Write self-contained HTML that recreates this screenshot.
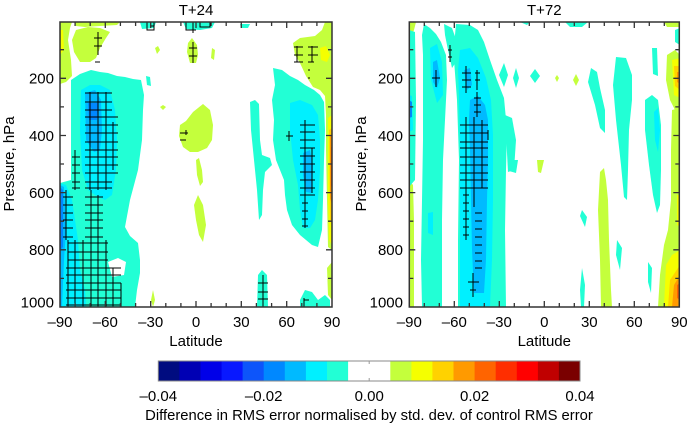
<!DOCTYPE html>
<html><head><meta charset="utf-8"><style>
html,body{margin:0;padding:0;background:#fff;}
svg{display:block;}
text{font-family:"Liberation Sans",Arial,sans-serif;fill:#000;}
</style></head><body>
<svg width="690" height="425" viewBox="0 0 690 425" xmlns="http://www.w3.org/2000/svg">
<rect width="690" height="425" fill="#fff"/>
<defs>
<clipPath id="cl"><rect x="60" y="22" width="272" height="285"/></clipPath>
<clipPath id="cr"><rect x="409.3" y="22" width="270" height="285"/></clipPath>
</defs>

<!-- LEFT PANEL -->
<g clip-path="url(#cl)">
<g fill="#C4FF3C">
<polygon points="60,22 72,22 70,28 68,40 71,60 72,76 66,82 60,84"/>
<polygon points="75,22 120,22 117,25 100,26 85,27 76,26"/>
<polygon points="76,30 88,27 100,28 110,32 106,38 100,48 96,58 90,62 80,62 74,52 72,40"/>
<polygon points="188,43 192,38 197,45 198,55 196,63 190,63 187,52"/>
<polygon points="155,48 158,46 160,50 157,54"/>
<polygon points="212,48 215,50 214,60 211,58"/>
<polygon points="163,105 166,107 163,110 160,107"/>
<polygon points="180,125 186,121 193,112 203,104 210,110 213,125 212,140 207,148 198,152 190,152 183,147 179,136"/>
<polygon points="196,160 199,158 202,170 203,182 200,186 197,175"/>
<polygon points="194,205 198,195 203,205 206,225 203,242 199,235 196,220"/>
<polygon points="153,290 155,300 153,307 151,300"/>
<polygon points="293,43 300,38 315,36 322,30 325,22 332,22 332,250 328,247 327,200 326,150 326,115 325,96 320,90 313,87 306,76 300,63 295,55"/>
<polygon points="327,268 332,262 332,300 328,295"/>
</g>
<g fill="#F5FF00">
<polygon points="320,48 326,46 330,55 327,62 321,60"/>
<polygon points="328,118 332,115 332,245 329,240 328,200"/>
<polygon points="60,30 63,30 64,50 60,55"/>
</g>
<polygon fill="#FFD200" points="329,130 332,128 332,225 330,220"/>
<polygon fill="#FF9A00" points="330,135 332,135 332,205 330,198"/>
<polygon fill="#FF6400" points="331,147 332,147 332,190 331,185"/>

<g fill="#22FFD5">
<polygon points="71,80 80,74 91,70 100,72 108,73 117,76 125,77 133,79 141,80 144,95 143,110 142,140 138,170 130,200 125,227 130,236 138,243 140,260 140,273 137,290 135,307 60,307 60,183 71,180"/>
<polygon points="273,68 282,70 290,76 298,80 305,85 314,90 320,95 324,102 325,130 324,160 323,200 322,230 318,247 312,245 300,235 292,225 287,210 285,195 284,180 280,170 276,160 273,140 274,120 272,100 275,85"/>
<polygon points="250,102 255,100 259,104 260,140 262,155 270,158 272,165 265,172 263,190 262,215 259,220 257,190 254,160 251,130"/>
<polygon points="258,275 262,270 267,275 268,307 257,307"/>
<polygon points="300,300 305,290 312,292 318,300 325,295 330,300 330,307 300,307"/>
<polygon points="140,22 156,22 154,28 142,29"/>
<polygon points="183,22 215,22 212,28 200,30 186,29"/>
<polygon points="240,24 250,24 248,28 241,28"/>
<polygon points="146,76 150,77 151,86 147,85"/>
</g>
<polygon fill="#fff" points="108,262 118,258 126,262 124,275 112,277"/>
<g fill="#00F0FF">
<polygon points="81,90 90,85 100,85 110,90 115,110 117,140 116,170 112,195 105,200 95,195 88,190 82,170 80,130"/>
<polygon points="60,183 66,185 72,200 78,240 80,270 85,290 86,307 60,307"/>
<polygon points="290,103 300,100 312,105 318,115 320,140 320,170 318,200 315,220 310,228 303,228 300,210 298,185 293,160 290,130"/>
</g>
<g fill="#00BAFF">
<polygon points="85,93 95,90 101,100 102,130 100,150 94,152 86,140"/>
<polygon points="60,185 64,187 66,230 64,260 62,307 60,307"/>
<polygon points="303,153 310,150 313,165 312,193 306,192 303,175"/>
</g>
<g fill="#0088FF">
<polygon points="88,103 98,103 97,120 89,120"/>
<polygon points="60,187 63,190 63,247 60,250"/>
</g>

<path fill="none" stroke="#000" stroke-width="1" d="
M98 32V55 M94 38H102 M94 46H102 M95 62H100
M147 22V30H154V22 M150 26H154
M186 22V30H196 M193 22V33 M200 22V27H210V22
M193 42V63 M189 48H197 M189 56H197
M297 46V62 M312 46V62 M294 47H303 M294 55H303 M294 62H303 M308 47H318 M308 55H318 M308 62H314 M308 70H310 M308 78H310
M180 133H188 M180 140H186 M186 130V135
M90 92V190 M98 92V190 M106 92V190 M113 122V170
M85 93H112 M85 102H112 M85 110H112 M85 117H118 M85 125H118 M85 133H118 M85 142H118 M85 150H118 M85 157H118 M85 165H118 M85 173H118 M85 182H112 M85 188H112
M75 150V190 M72 157H80 M72 165H80 M72 173H80 M72 182H80 M72 188H80
M66 190V240 M91 190V240 M98 195V240
M63 197H73 M63 205H73 M63 213H73 M63 220H73 M63 228H73 M63 237H73
M85 197H103 M85 205H103 M85 213H103 M85 220H103 M85 228H103 M85 237H103
M68 240V307 M75 240V307 M83 240V307 M91 240V307 M98 240V307 M106 240V307 M113 268V307 M121 283V307
M68 243H108 M68 252H108 M68 260H108 M66 268H121 M66 275H121 M66 283H121 M66 290H121 M66 298H121 M66 305H121
M305 120V228 M312 148V193
M300 125H315 M300 132H315 M300 140H315 M300 148H315 M300 156H315 M300 164H315 M300 172H315 M300 180H315 M300 188H315 M300 195H315
M302 203H308 M302 211H308 M302 219H308 M302 226H308
M289 131V141 M286 136H293
M263 275V307 M258 283H268 M258 292H268 M258 299H268
M304 298V307 M304 300H309
"/>
</g>

<!-- RIGHT PANEL -->
<g clip-path="url(#cr)">
<g fill="#C4FF3C">
<polygon points="409,22 416,22 414,30 410,40 409,40"/>
<polygon points="409,180 413,185 414,220 414,307 409,307"/>
<polygon points="555,78 557,75 559,78 557,82"/>
<polygon points="573,80 576,74 579,80 576,86"/>
<polygon points="537,160 544,160 541,173 538,172"/>
<polygon points="600,172 604,168 606,180 608,200 609,240 611,290 612,307 601,307 600,260 598,210"/>
<polygon points="664,22 679,22 679,27 667,27"/>
<polygon points="667,55 675,50 680,55 680,118 675,110 670,100 666,80"/>
<polygon points="672,110 680,108 680,307 658,307 660,275 664,245 668,230 671,200 671,150"/>
</g>
<g fill="#F5FF00">
<polygon points="672,60 680,58 680,98 674,95"/>
<polygon points="677,195 680,195 680,227 677,225"/>
<polygon points="666,265 672,255 680,250 680,307 664,307"/>
</g>
<g fill="#FFD200">
<polygon points="674,66 680,66 680,90 675,86"/>
<polygon points="670,280 680,265 680,307 668,307"/>
</g>
<g fill="#FF9A00">
<polygon points="677,72 680,72 680,84 677,82"/>
<polygon points="674,285 680,275 680,307 672,307"/>
</g>
<polygon fill="#FF6400" points="677,285 680,283 680,300 677,298"/>

<g fill="#22FFD5">
<polygon points="409,30 415,32 416,100 415,180 409,187"/>
<polygon points="424,24 430,28 436,34 441,42 446,55 447,80 445,120 443,160 442,220 442,307 422,307 421,260 422,200 423,140 423,90 423,55 422,35"/>
<polygon points="444,24 452,28 457,42 456,62 452,68 448,50 445,35"/>
<polygon points="456,24 470,25 478,30 484,42 490,60 497,80 504,98 507,130 506,170 505,230 506,307 458,307 458,240 459,160 457,100 454,60 455,35"/>
<polygon points="505,115 512,118 516,140 514,170 508,172"/>
<polygon points="504,63 508,75 504,87 499,75"/>
<polygon points="516,68 519,78 516,88 513,78"/>
<polygon points="535,69 540,76 535,83 530,76"/>
<polygon points="508,160 518,160 516,173 509,171"/>
<polygon points="591,68 597,72 600,88 605,110 605,133 600,128 595,105 588,82"/>
<polygon points="616,57 626,58 632,75 632,100 629,130 628,170 627,200 624,197 621,165 616,120 613,85"/>
<polygon points="645,100 652,95 658,100 661,125 661,170 660,205 657,213 653,195 649,165 645,130"/>
<polygon points="652,48 657,48 658,76 653,74"/>
<polygon points="582,210 587,217 585,227 580,216"/>
<polygon points="617,240 622,248 620,270 616,255"/>
<polygon points="648,262 652,268 651,293 648,282"/>
<polygon points="582,268 585,285 584,307 581,307 580,290"/>
<polygon points="565,22 588,22 582,27 570,27"/>
<polygon points="520,22 530,22 527,25"/>
<polygon points="675,30 680,28 680,45 675,42"/>
</g>
<g fill="#00F0FF">
<polygon points="430,48 437,44 442,62 443,95 437,103 431,80"/>
<polygon points="428,213 433,212 433,235 428,233"/>
<polygon points="460,50 470,48 478,58 486,78 491,100 493,135 493,200 492,260 490,307 460,307 460,220 460,150 459,95 458,70"/>
<polygon points="654,112 658,108 660,130 658,152 655,140"/>
<polygon points="409,95 412,96 413,130 409,132"/>
</g>
<g fill="#00BAFF">
<polygon points="433,62 437,60 440,78 437,88 433,82"/>
<polygon points="464,70 470,68 472,85 467,90"/>
<polygon points="470,100 478,96 485,105 488,120 488,160 487,200 486,260 484,293 474,293 472,250 471,200 470,150 469,120"/>
</g>
<polygon fill="#0088FF" points="409,100 412,102 412,117 409,118"/>

<path fill="none" stroke="#000" stroke-width="1" d="
M436 70V87 M432 78H440
M450 45V62 M448 50H452 M448 57H452
M466 66V93 M462 73H471 M462 80H471 M462 87H471 M477 70V90 M475 73H480 M475 80H480
M477 92V117 M474 98H481 M474 105H481 M474 112H481
M466 117V240 M474 117V207 M482 120V188 M488 130V140
M460 125H488 M460 133H488 M460 142H488 M460 148H488 M460 157H488 M460 165H488 M460 173H488 M460 180H488 M460 188H488
M463 195H469 M463 203H469 M463 211H469 M463 219H469 M463 227H469 M463 235H469
M475 213H482 M475 221H482 M475 229H482 M475 237H482 M475 245H482 M475 253H482 M475 261H482 M475 268H482
M473 273V297 M468 282H479 M470 290H476
"/>
</g>

<!-- AXES -->
<g fill="none" stroke="#333" stroke-width="1.5">
<rect x="60" y="22" width="272" height="285"/>
<rect x="409.3" y="22" width="270" height="285"/>
</g>
<path fill="none" stroke="#333" stroke-width="1.3" d="
M75.1 307v-4 M90.2 307v-4 M105.3 307v-6 M120.4 307v-4 M135.6 307v-4 M150.7 307v-6 M165.8 307v-4 M180.9 307v-4 M196 307v-6 M211.1 307v-4 M226.2 307v-4 M241.3 307v-6 M256.4 307v-4 M271.6 307v-4 M286.7 307v-6 M301.8 307v-4 M316.9 307v-4
M75.1 22v4 M90.2 22v4 M105.3 22v6 M120.4 22v4 M135.6 22v4 M150.7 22v6 M165.8 22v4 M180.9 22v4 M196 22v6 M211.1 22v4 M226.2 22v4 M241.3 22v6 M256.4 22v4 M271.6 22v4 M286.7 22v6 M301.8 22v4 M316.9 22v4
M60 49.7h4 M60 78.3h6 M60 106.9h4 M60 135.5h6 M60 164h4 M60 192.6h6 M60 221.2h4 M60 249.8h6 M60 278.4h4
M332 49.7h-4 M332 78.3h-6 M332 106.9h-4 M332 135.5h-6 M332 164h-4 M332 192.6h-6 M332 221.2h-4 M332 249.8h-6 M332 278.4h-4
M424.3 307v-4 M439.3 307v-4 M454.3 307v-6 M469.3 307v-4 M484.3 307v-4 M499.3 307v-6 M514.3 307v-4 M529.3 307v-4 M544.3 307v-6 M559.3 307v-4 M574.3 307v-4 M589.3 307v-6 M604.3 307v-4 M619.3 307v-4 M634.3 307v-6 M649.3 307v-4 M664.3 307v-4
M424.3 22v4 M439.3 22v4 M454.3 22v6 M469.3 22v4 M484.3 22v4 M499.3 22v6 M514.3 22v4 M529.3 22v4 M544.3 22v6 M559.3 22v4 M574.3 22v4 M589.3 22v6 M604.3 22v4 M619.3 22v4 M634.3 22v6 M649.3 22v4 M664.3 22v4
M409.3 49.7h4 M409.3 78.3h6 M409.3 106.9h4 M409.3 135.5h6 M409.3 164h4 M409.3 192.6h6 M409.3 221.2h4 M409.3 249.8h6 M409.3 278.4h4
M679.3 49.7h-4 M679.3 78.3h-6 M679.3 106.9h-4 M679.3 135.5h-6 M679.3 164h-4 M679.3 192.6h-6 M679.3 221.2h-4 M679.3 249.8h-6 M679.3 278.4h-4
"/>

<!-- TEXT -->
<g font-size="15">
<text x="196" y="15" text-anchor="middle">T+24</text>
<text x="544.3" y="15" text-anchor="middle">T+72</text>

<g text-anchor="end">
<text x="54" y="83.6">200</text>
<text x="54" y="140.8">400</text>
<text x="54" y="197.9">600</text>
<text x="54" y="255.1">800</text>
<text x="54" y="307.5">1000</text>
<text x="403" y="83.6">200</text>
<text x="403" y="140.8">400</text>
<text x="403" y="197.9">600</text>
<text x="403" y="255.1">800</text>
<text x="403" y="307.5">1000</text>
</g>

<g text-anchor="middle">
<text x="60" y="327">–90</text>
<text x="105.3" y="327">–60</text>
<text x="150.7" y="327">–30</text>
<text x="196" y="327">0</text>
<text x="241.3" y="327">30</text>
<text x="286.7" y="327">60</text>
<text x="332" y="327">90</text>
<text x="409.3" y="327">–90</text>
<text x="454.3" y="327">–60</text>
<text x="499.3" y="327">–30</text>
<text x="544.3" y="327">0</text>
<text x="589.3" y="327">30</text>
<text x="634.3" y="327">60</text>
<text x="679.3" y="327">90</text>
<text x="196" y="346">Latitude</text>
<text x="544.3" y="346">Latitude</text>
<text transform="translate(14,164) rotate(-90)">Pressure, hPa</text>
<text transform="translate(366,164) rotate(-90)">Pressure, hPa</text>

<text x="158.3" y="401">–0.04</text>
<text x="263.7" y="401">–0.02</text>
<text x="369.2" y="401">0.00</text>
<text x="474.6" y="401">0.02</text>
<text x="580" y="401">0.04</text>
</g>
<text x="369" y="420" text-anchor="middle" font-size="14.8">Difference in RMS error normalised by std. dev. of control RMS error</text>
</g>

<!-- COLORBAR -->
<g>
<rect x="158.3" y="361" width="21.6" height="20" fill="#000C80"/>
<rect x="179.4" y="361" width="21.6" height="20" fill="#0000B4"/>
<rect x="200.5" y="361" width="21.6" height="20" fill="#0000E8"/>
<rect x="221.6" y="361" width="21.6" height="20" fill="#0818FF"/>
<rect x="242.6" y="361" width="21.6" height="20" fill="#0D55FA"/>
<rect x="263.7" y="361" width="21.6" height="20" fill="#0088FF"/>
<rect x="284.8" y="361" width="21.6" height="20" fill="#00BAFF"/>
<rect x="305.9" y="361" width="21.6" height="20" fill="#00F0FF"/>
<rect x="327.0" y="361" width="21.6" height="20" fill="#22FFD5"/>
<rect x="348.1" y="361" width="42.2" height="20" fill="#FFFFFF"/>
<rect x="390.3" y="361" width="21.6" height="20" fill="#C4FF3C"/>
<rect x="411.4" y="361" width="21.6" height="20" fill="#F5FF00"/>
<rect x="432.4" y="361" width="21.6" height="20" fill="#FFD200"/>
<rect x="453.5" y="361" width="21.6" height="20" fill="#FF9A00"/>
<rect x="474.6" y="361" width="21.6" height="20" fill="#FF6400"/>
<rect x="495.7" y="361" width="21.6" height="20" fill="#FF2E00"/>
<rect x="516.8" y="361" width="21.6" height="20" fill="#FF0000"/>
<rect x="537.9" y="361" width="21.6" height="20" fill="#C00000"/>
<rect x="558.9" y="361" width="21.1" height="20" fill="#7A0000"/>
<rect x="158.3" y="361" width="421.7" height="20" fill="none" stroke="#888" stroke-width="1"/>
<path d="M369.2 361v3 M369.2 381v-3" stroke="#999" stroke-width="1"/>
</g>
</svg>
</body></html>
